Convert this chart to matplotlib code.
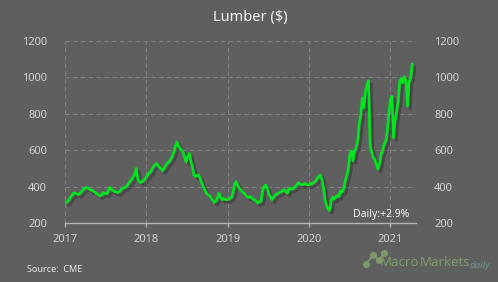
import matplotlib
matplotlib.use("Agg")
import matplotlib.pyplot as plt
import matplotlib.patheffects as pe
import pandas as pd
import numpy as np

plt.rcParams['font.family'] = ['Noto Sans', 'DejaVu Sans']

title = "Lumber ($)"
source = "Source:  CME"
daily_label = "Daily:+2.9%"
start_date = "2017-01-06"

v2017 = [313, 320, 330, 345, 355, 367, 362, 360, 355, 365, 373, 385, 390, 396, 392, 385,
         380, 378, 372, 365, 360, 352, 349, 358, 367, 362, 360, 375, 396, 385, 378, 373,
         370, 367, 372, 380, 391, 394, 396, 405, 418, 428, 440, 455, 469, 500, 440, 427,
         422, 430, 436, 448]
v2018 = [460, 475, 478, 495, 510, 520, 527, 513, 505, 495, 487, 505, 518, 530, 536, 550,
         564, 590, 618, 645, 625, 609, 600, 591, 560, 536, 567, 582, 540, 509, 464, 455,
         462, 464, 445, 420, 400, 380, 364, 355, 349, 338, 327, 313, 320, 336, 364, 345,
         327, 336, 330, 327]
v2019 = [330, 336, 340, 365, 410, 427, 409, 391, 382, 373, 364, 355, 345, 340, 345, 338,
         330, 327, 318, 309, 318, 318, 380, 400, 409, 391, 360, 345, 327, 340, 354, 358,
         364, 368, 373, 378, 382, 370, 364, 391, 388, 385, 392, 400, 410, 422, 415, 409,
         412, 418, 412, 409]
v2020 = [409, 418, 415, 425, 430, 445, 455, 464, 440, 400, 330, 300, 275, 269, 324, 342,
         330, 345, 351, 345, 378, 369, 387, 433, 460, 496, 578, 596, 542, 596, 615, 650,
         742, 796, 887, 833, 924, 960, 982, 624, 590, 560, 551, 524, 496, 524, 578, 596,
         636, 647, 705, 800]
v2021 = [880, 896, 669, 760, 815, 869, 978, 996, 969, 1005, 978, 842, 978, 996, 1073]

values = v2017 + v2018 + v2019 + v2020 + v2021
dates = pd.date_range(start_date, periods=len(values), freq="W-FRI")

bg = "#5f5f5f"
fig = plt.figure(figsize=(4.98, 2.82), dpi=100, facecolor=bg)
ax = fig.add_axes([65/498, 1-223/282, (416-65)/498, (223-41)/282], facecolor=bg)

ax.plot(dates, values, color="#00e61e", lw=1.9, solid_joinstyle="round",
        path_effects=[pe.SimpleLineShadow(offset=(2, -2), shadow_color="#2a2a2a", alpha=0.45),
                      pe.Normal()], zorder=3)

ax.set_ylim(200, 1200)
ax.set_yticks([200, 400, 600, 800, 1000, 1200])
years = [pd.Timestamp(f"{y}-01-01") for y in range(2017, 2022)]
ax.set_xticks(years)
ax.set_xticklabels([str(y) for y in range(2017, 2022)])
ax.set_xlim(pd.Timestamp("2017-01-01"), pd.Timestamp("2021-04-26"))

ax.grid(True, color="#808080", linestyle=(0, (4, 3)), linewidth=0.8)
for s in ["top", "left", "right"]:
    ax.spines[s].set_visible(False)
ax.spines["bottom"].set_color("#b4b4b4")
ax.spines["bottom"].set_linewidth(1.0)
ax.tick_params(axis="x", colors="#b4b4b4", length=3, width=1, labelcolor="#d2d2d2",
               labelsize=8, pad=5)
ax.tick_params(axis="y", length=0, labelcolor="#d2d2d2", labelsize=8,
               labelleft=True, labelright=True, pad=13)

fig.text(250/498, 1-18/282, title, ha="center", va="center", color="#f2f2f2", fontsize=10.5)
fig.text(27/498, 1-270/282, source, ha="left", va="center", color="#e6e6e6", fontsize=6.5)
ax.text(pd.Timestamp("2021-03-28"), 244, daily_label, ha="right", va="center",
        color="#f2f2f2", fontsize=7.5, zorder=4)

# watermark
wm_y = 1-263/282
fig.text(380/498, wm_y, "Macro", ha="left", va="center", color="#7f9a6a", fontsize=9.5,
         fontweight="bold")
fig.text(420/498, wm_y, "Markets", ha="left", va="center", color="#7f9a6a", fontsize=9.5)
fig.text(470/498, 1-265/282, "daily", ha="left", va="center", color="#6f8f90", fontsize=7,
         style="italic")
px = np.array([366, 373, 379, 384]) / 498
py = 1 - np.array([264, 255, 260, 253]) / 282
fig.add_artist(plt.Line2D(px, py, color="#7f9a6a", lw=1.2))
fig.add_artist(plt.Line2D(px, py, color="#7f9a6a", lw=0, marker="o", markersize=4))

fig.savefig("out.png", dpi=100, facecolor=bg)
